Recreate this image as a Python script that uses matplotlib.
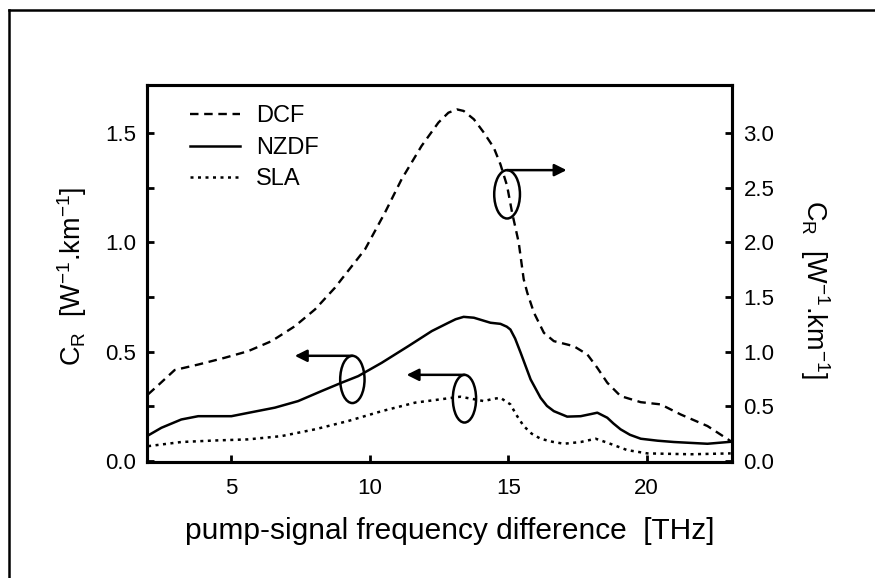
import matplotlib.pyplot as plt
import numpy as np
from matplotlib.patches import Ellipse
from matplotlib.lines import Line2D

plt.rcParams['font.family'] = ['Liberation Sans', 'DejaVu Sans']
plt.rcParams['mathtext.fontset'] = 'custom'
plt.rcParams['mathtext.rm'] = 'Liberation Sans'
plt.rcParams['mathtext.it'] = 'Liberation Sans:italic'

# --- datos ---
# NZDF y SLA en el eje izquierdo, DCF en el eje derecho
x_nzdf = [1.99, 2.47, 3.19, 3.8, 4.4, 5.0, 5.6, 6.57, 7.41, 8.26, 8.98, 9.58, 10.43, 11.39,
          12.24, 12.84, 13.1, 13.39, 13.76, 14.36, 14.72, 14.95, 15.08, 15.25, 15.45, 15.81,
          16.17, 16.4, 16.65, 17.13, 17.62, 18.0, 18.22, 18.58, 18.8, 19.06, 19.4, 19.79,
          20.4, 20.99, 22.2, 23.04]
y_nzdf = [0.117, 0.152, 0.19, 0.205, 0.205, 0.205, 0.22, 0.244, 0.274, 0.32, 0.358, 0.388,
          0.449, 0.525, 0.594, 0.632, 0.648, 0.659, 0.655, 0.632, 0.627, 0.614, 0.601, 0.56,
          0.495, 0.373, 0.289, 0.252, 0.228, 0.203, 0.205, 0.215, 0.221, 0.198, 0.172, 0.145,
          0.12, 0.102, 0.093, 0.087, 0.079, 0.088]

x_sla = [1.99, 3.19, 4.4, 5.6, 6.81, 8.02, 9.22, 10.43, 11.64, 12.55, 13.27, 13.7, 14.12,
         14.45, 14.72, 15.08, 15.3, 15.56, 15.85, 16.17, 16.6, 17.01, 17.62, 18.16, 18.58,
         19.3, 20.03, 21.6, 23.04]
y_sla = [0.068, 0.087, 0.094, 0.099, 0.114, 0.145, 0.183, 0.228, 0.267, 0.282, 0.294, 0.284,
         0.274, 0.284, 0.289, 0.259, 0.21, 0.16, 0.125, 0.102, 0.088, 0.079, 0.087, 0.102,
         0.084, 0.05, 0.035, 0.031, 0.035]

x_dcf = [1.99, 2.35, 2.95, 3.8, 4.76, 5.6, 6.45, 7.29, 8.02, 8.74, 8.98, 9.83, 10.55, 11.15,
         11.87, 12.48, 12.84, 13.15, 13.39, 13.76, 14.12, 14.48, 14.72, 14.96, 15.14, 15.38,
         15.56, 15.69, 15.93, 16.29, 16.65, 17.37, 17.86, 18.22, 18.58, 19.06, 19.79, 20.51,
         21.23, 22.2, 23.04]
y_dcf = [0.61, 0.692, 0.832, 0.882, 0.944, 1.004, 1.096, 1.232, 1.386, 1.584, 1.662, 1.936,
         2.272, 2.576, 2.88, 3.094, 3.184, 3.214, 3.2, 3.124, 3.002, 2.864, 2.712, 2.516,
         2.272, 1.998, 1.662, 1.538, 1.356, 1.172, 1.096, 1.05, 0.974, 0.852, 0.716, 0.594,
         0.538, 0.518, 0.426, 0.32, 0.182]

fig = plt.figure(figsize=(8.75, 5.78), dpi=100)
ax = fig.add_axes([0.168, 0.2012, 0.669, 0.6523])
ax2 = ax.twinx()

ax.plot(x_dcf, np.array(y_dcf) / 2, color='black', lw=1.7, dashes=(3.6, 2.4), label='DCF')
ax.plot(x_nzdf, y_nzdf, color='black', lw=1.8, label='NZDF')
ax.plot(x_sla, y_sla, color='black', lw=1.8, dashes=(1.2, 1.8), label='SLA')

ax.set_xlim(1.95, 23.1)
ax.set_ylim(-0.003, 1.72)
ax2.set_ylim(-0.006, 3.44)

ax.set_xticks([5, 10, 15, 20])
ax.set_yticks(np.arange(0, 1.6, 0.25))
ax.set_yticklabels(['0.0', '', '0.5', '', '1.0', '', '1.5'])
ax2.set_yticks(np.arange(0, 3.1, 0.5))
ax2.set_yticklabels(['0.0', '0.5', '1.0', '1.5', '2.0', '2.5', '3.0'])

for a in (ax, ax2):
    for s in a.spines.values():
        s.set_linewidth(2.2)
ax.tick_params(axis='both', direction='in', length=5, width=2, labelsize=16, right=False)
ax.tick_params(axis='y', pad=8)
ax.tick_params(axis='x', pad=12)
ax2.tick_params(axis='y', direction='in', length=5, width=2, labelsize=16, pad=8)

# anillos y flechas
def anillo(xc, yc, w, h, x_tip):
    ax.add_patch(Ellipse((xc, yc), w, h, fill=False, lw=1.8, color='black'))
    ytop = yc + h / 2
    ax.annotate('', xy=(x_tip, ytop), xytext=(xc, ytop),
                arrowprops=dict(arrowstyle='-|>', lw=1.8, color='black',
                                mutation_scale=18, shrinkA=0, shrinkB=0))

anillo(9.37, 0.373, 0.88, 0.216, 7.29)
anillo(13.42, 0.285, 0.84, 0.218, 11.33)
anillo(14.96, 1.219, 0.93, 0.221, 17.11)

leg = ax.legend(loc='upper left', bbox_to_anchor=(0.0735, 0.945), frameon=False,
                fontsize=17, handlelength=2.1, handletextpad=0.7, labelspacing=0.4,
                borderpad=0, borderaxespad=0)

ylab = r'C$_{\mathrm{R}}$  [W$^{\mathrm{-1}}$.km$^{\mathrm{-1}}$]'
fig.text(72.5 / 875, 1 - 276 / 578, ylab, rotation=90, ha='center', va='center', fontsize=19.5)
fig.text(815 / 875, 1 - 290 / 578, ylab, rotation=-90, ha='center', va='center', fontsize=19.5)
fig.text(450 / 875, 1 - 531 / 578, 'pump-signal frequency difference  [THz]',
         ha='center', va='center', fontsize=21.5)

# marco exterior
fig.add_artist(Line2D([8.5 / 875, 1.0], [1 - 9.5 / 578] * 2, transform=fig.transFigure,
                      color='black', lw=1.8))
fig.add_artist(Line2D([8.5 / 875] * 2, [0.0, 1 - 9.5 / 578], transform=fig.transFigure,
                      color='black', lw=1.8))

plt.savefig('out.png', dpi=100)
